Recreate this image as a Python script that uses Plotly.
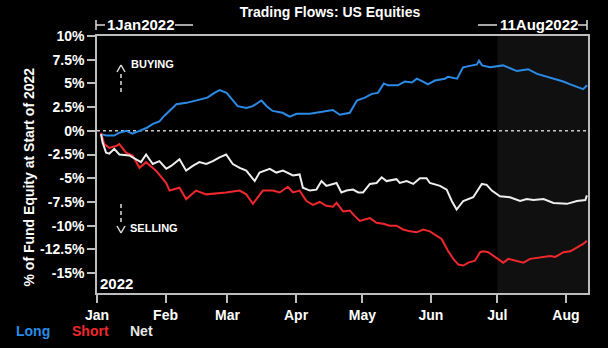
import plotly.graph_objects as go
import pandas as pd

# ---------------- data (days since 1 Jan 2022, % of fund equity) ----------------
START = "2022-01-01"
END = "2022-08-11"

long_days = [1.8, 4.2, 7.8, 10.1, 13.3, 16.0, 19.2, 22.3, 25.1, 28.2, 30.5, 32.8, 35.9, 40.5, 45.0,
             47.7, 49.9, 53.1, 55.4, 58.6, 61.3, 63.6, 67.6, 70.4, 74.4, 76.7, 79.4, 83.9, 87.1, 90.3,
             96.2, 101.6, 106.6, 109.8, 114.3, 117.5, 121.1, 124.3, 127.0, 129.7, 131.5, 136.0, 139.2,
             142.4, 144.6, 147.4, 149.6, 152.8, 157.3, 158.7, 162.8, 165.5, 169.6, 171.8, 172.7, 174.1,
             177.7, 183.6, 189.9, 194.9, 199.0, 204.9, 210.8, 214.0, 217.1, 219.8, 221.6]
long_vals = [-0.35, -0.5, -0.5, -0.2, 0, -0.3, 0, 0.3, 0.7, 1.0, 1.6, 2.1, 2.8, 2.95, 3.2,
             3.4, 3.5, 4.0, 4.3, 4.0, 3.2, 2.6, 2.4, 2.6, 3.2, 2.6, 2.1, 1.9, 1.5, 1.8,
             1.8, 2.0, 2.2, 1.7, 1.9, 3.2, 3.5, 3.9, 4.0, 5.0, 4.8, 4.8, 5.2,
             5.1, 5.5, 5.2, 4.9, 5.3, 5.5, 5.7, 5.5, 6.7, 6.9, 7.0, 7.4, 6.9,
             6.7, 6.9, 6.3, 6.5, 6.0, 5.6, 5.2, 4.9, 4.6, 4.4, 4.8]

short_days = [1.8, 3.3, 5.6, 8.6, 10.1, 13.1, 16.1, 19.2, 22.2, 26.7, 31.3, 32.8, 37.3, 40.3, 44.8,
              49.4, 58.4, 64.5, 67.5, 70.5, 75.0, 79.5, 82.6, 86.3, 88.6, 91.6, 94.7, 97.7, 100.7,
              103.7, 106.7, 108.3, 111.3, 114.3, 116.6, 118.8, 121.9, 123.4, 126.4, 129.4, 132.4,
              135.4, 138.4, 141.5, 144.5, 147.5, 150.5, 153.6, 155.8, 158.8, 161.1, 163.4, 165.6,
              167.9, 170.9, 173.2, 174.7, 176.9, 179.9, 183.7, 186.0, 189.8, 192.8, 195.8, 199.6,
              204.9, 207.2, 210.9, 214.0, 217.0, 220.0, 221.5]
short_vals = [-0.2, -1.4, -1.8, -1.6, -1.4, -2.3, -2.6, -3.9, -3.3, -4.2, -5.5, -6.3, -6.0, -7.2, -6.3,
              -6.7, -6.5, -6.3, -6.7, -7.7, -6.3, -6.3, -6.5, -5.9, -6.5, -6.3, -7.4, -7.8, -7.5,
              -7.9, -8.0, -7.6, -8.5, -8.4, -9.0, -9.5, -9.3, -9.2, -9.7, -9.8, -10.0,
              -10.0, -10.4, -10.6, -10.7, -10.4, -10.6, -11.1, -11.4, -12.7, -13.5, -14.1, -14.2,
              -13.9, -13.7, -12.8, -12.7, -12.8, -13.3, -13.9, -13.5, -13.7, -13.9, -13.5, -13.4,
              -13.2, -13.3, -12.8, -12.7, -12.3, -11.9, -11.6]

net_days = [1.8, 2.5, 4.1, 5.6, 7.8, 10.1, 14.6, 17.7, 19.9, 22.2, 25.2, 28.2, 31.3, 33.5, 37.3,
            40.3, 43.3, 46.3, 49.4, 52.4, 55.4, 58.4, 61.4, 64.5, 67.5, 71.3, 73.5, 78.1, 81.1,
            84.1, 88.6, 91.6, 93.1, 96.2, 99.2, 101.5, 103.7, 106.7, 108.3, 110.5, 112.8, 115.8,
            118.1, 120.3, 123.4, 126.4, 128.7, 130.9, 135.4, 136.9, 140.0, 143.0, 146.0, 149.0,
            150.5, 155.1, 158.1, 160.4, 162.6, 165.6, 170.1, 174.0, 176.2, 178.5, 182.2, 186.7,
            191.3, 194.3, 197.3, 201.9, 206.4, 212.5, 217.0, 220.8, 221.5]
net_vals = [-0.35, -1.2, -2.3, -2.4, -1.9, -2.5, -2.6, -3.0, -3.3, -2.5, -3.5, -3.2, -4.0, -3.7, -3.0,
            -4.2, -3.7, -3.3, -3.5, -3.2, -2.8, -2.5, -3.5, -3.9, -4.2, -5.3, -4.4, -4.0, -4.4,
            -4.2, -4.7, -4.6, -6.0, -6.3, -6.2, -5.3, -5.8, -5.6, -5.5, -6.5, -6.3, -6.2,
            -6.5, -6.5, -5.6, -5.5, -4.9, -5.3, -5.1, -5.5, -5.3, -5.6, -5.0, -5.0,
            -5.5, -5.8, -6.2, -7.4, -8.3, -7.4, -7.0, -5.6, -5.7, -6.3, -6.9, -7.0,
            -7.4, -7.2, -7.3, -7.2, -7.6, -7.7, -7.4, -7.3, -6.8]

month_ticks = ["2022-01-01", "2022-02-01", "2022-03-01", "2022-04-01",
               "2022-05-01", "2022-06-01", "2022-07-01", "2022-08-01"]
month_labels = ["Jan", "Feb", "Mar", "Apr", "May", "Jun", "Jul", "Aug"]
y_ticks = [10, 7.5, 5, 2.5, 0, -2.5, -5, -7.5, -10, -12.5, -15]
y_labels = ["10%", "7.5%", "5%", "2.5%", "0%", "-2.5%", "-5%", "-7.5%", "-10%", "-12.5%", "-15%"]
shade_start = "2022-07-01"

series_names = ["Long", "Short", "Net"]
series_colors = ["#2b8be6", "#f0282d", "#eeeeee"]

# ---------------- layout helpers ----------------
W, H = 608, 348
L, R, T, B = 97, 20, 36, 55
PW, PH = W - L - R, H - T - B


def px(x):
    return (x - L) / PW


def py(y):
    return (H - B - y) / PH


def to_dates(days):
    return pd.Timestamp(START) + pd.to_timedelta(days, unit="D")


FONT = "Liberation Sans, Arial, sans-serif"
FRAME = "#bdbdbd"

fig = go.Figure()
for name, d, v, c in zip(series_names, [long_days, short_days, net_days],
                         [long_vals, short_vals, net_vals], series_colors):
    fig.add_trace(go.Scatter(x=to_dates(d), y=v, mode="lines", name=name,
                             line=dict(color=c, width=2), showlegend=False))

shapes = [
    dict(type="rect", xref="x", yref="paper", x0=shade_start, x1=END, y0=0, y1=1,
         fillcolor="#101010", line=dict(width=0), layer="below"),
    dict(type="line", xref="paper", yref="y", x0=0, x1=1, y0=0, y1=0,
         line=dict(color="#c8c8c8", width=1.5, dash="3px,3px"), layer="below"),
]


def seg(x0, y0, x1, y1, color="#dddddd", width=1.5, dash=None):
    ln = dict(color=color, width=width)
    if dash:
        ln["dash"] = dash
    return dict(type="line", xref="paper", yref="paper",
                x0=px(x0), y0=py(y0), x1=px(x1), y1=py(y1), line=ln)


# top date markers
shapes += [seg(96, 20, 96, 30), seg(96, 25, 105, 25), seg(175, 25, 193, 25),
           seg(478, 25, 497, 25), seg(578, 25, 587, 25), seg(587, 20, 587, 30)]
# buying / selling arrows
shapes += [seg(121, 74, 121, 93, dash="4px,3px"), seg(117, 72, 121, 65), seg(121, 65, 125, 72),
           seg(121, 204, 121, 223, dash="4px,3px"), seg(117, 226, 121, 233), seg(121, 233, 125, 226)]


def ann(text, x, y, size=14, color="white", xanchor="center", angle=0):
    return dict(text=text, xref="paper", yref="paper", x=px(x), y=py(y),
                xanchor=xanchor, yanchor="middle", showarrow=False, textangle=angle,
                font=dict(family=FONT, size=size, color=color, weight="bold"))


annotations = [
    ann("1Jan2022", 140.5, 25, size=15),
    ann("11Aug2022", 538.5, 25, size=15),
    ann("BUYING", 129, 64, size=11, xanchor="left"),
    ann("SELLING", 128, 228, size=11, xanchor="left"),
    ann("2022", 98, 283, size=15, xanchor="left"),
    ann("% of Fund Equity at Start of 2022", 28, 177.5, size=14, angle=-90),
    ann("Long", 33, 331, color=series_colors[0]),
    ann("Short", 90, 331, color=series_colors[1]),
    ann("Net", 141, 331, color="#e6e6e6"),
]

axis_common = dict(showline=True, linecolor=FRAME, linewidth=1.5, mirror=True,
                   ticks="outside", ticklen=8, tickwidth=1.5, tickcolor=FRAME,
                   showgrid=False, zeroline=False,
                   tickfont=dict(family=FONT, size=14, color="white", weight="bold"))

fig.update_layout(
    width=W, height=H,
    margin=dict(l=L, r=R, t=T, b=B, pad=0),
    paper_bgcolor="black", plot_bgcolor="black",
    title=dict(text="Trading Flows: US Equities", x=330 / W, xanchor="center",
               y=1 - 12 / H, yanchor="middle",
               font=dict(family=FONT, size=14, color="white", weight="bold")),
    xaxis=dict(type="date", range=[START, END], tickvals=month_ticks, ticktext=month_labels,
               **axis_common),
    yaxis=dict(range=[-17.1, 10], tickvals=y_ticks, ticktext=y_labels, **axis_common),
    shapes=shapes,
    annotations=annotations,
    showlegend=False,
)

fig.write_html("out.html")
